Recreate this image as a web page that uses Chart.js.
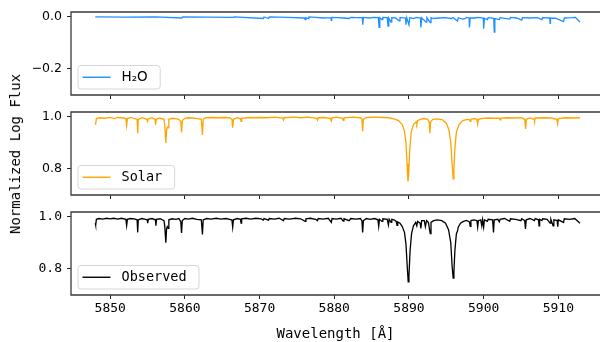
<!DOCTYPE html>
<html><head><meta charset="utf-8">
<script src="https://cdn.jsdelivr.net/npm/chart.js@4.4.0/dist/chart.umd.min.js"></script>
<style>
html,body{margin:0;padding:0;width:600px;height:342px;overflow:hidden;background:#fff;}
#wrap{position:relative;width:600px;height:342px;overflow:hidden;}
.p{position:absolute;left:0;width:600px;}
.p canvas{display:block;width:600px;}
#ylab{position:absolute;left:15px;top:154px;transform:translate(-50%,-50%) rotate(-90deg);font:14px 'DejaVu Sans Mono',monospace;white-space:nowrap;color:#000;}
</style></head><body>
<div id="wrap">
<div class="p" style="top:0;height:100px"><canvas id="c1" width="600" height="100" style="width:600px;height:100px"></canvas></div>
<div class="p" style="top:100px;height:100px"><canvas id="c2" width="600" height="100" style="width:600px;height:100px"></canvas></div>
<div class="p" style="top:200px;height:142px"><canvas id="c3" width="600" height="142" style="width:600px;height:142px"></canvas></div>
<div id="ylab">Normalized Log Flux</div>
</div>
<script>
// ---- data ----
const xTicks = [5850, 5860, 5870, 5880, 5890, 5900, 5910];
const xLimits = [5844.75, 5915.58];
const h2oTicks = [0.0, -0.2];
const fluxTicks = [1.0, 0.8];
const seriesLabels = ['H\u2082O', 'Solar', 'Observed'];

const h2oSpectrum = [
 [5848.0,0],[5852.0,-0.001],[5856.0,0],[5859.6,-0.004],[5859.7,0],[5863.0,-0.001],[5866.5,-0.002],[5866.6,0],
 [5870.5,-0.006],[5870.6,0],[5871.2,-0.006],[5871.3,0],[5873.8,-0.002],[5876.0,-0.004],[5876.1,-0.01],[5876.2,-0.003],
 [5876.5,-0.006],[5876.6,0],[5877.5,-0.002],[5878.6,-0.004],[5879.55,-0.003],[5879.6,-0.013],[5879.65,-0.002],
 [5880.5,-0.003],[5881.2,-0.004],[5882.0,-0.006],[5882.2,-0.002],[5883.0,-0.003],[5883.75,-0.003],[5883.82,-0.03],
 [5883.9,-0.002],[5884.7,-0.004],[5885.3,-0.002],[5885.9,-0.003],[5886.0,-0.04],[5886.1,-0.003],[5886.4,-0.01],
 [5886.5,-0.002],[5887.1,-0.003],[5887.2,-0.035],[5887.3,-0.004],[5887.6,-0.02],[5887.7,-0.003],[5888.2,-0.004],
 [5888.7,-0.015],[5888.8,-0.002],[5889.55,-0.004],[5889.6,-0.03],[5889.7,-0.003],[5890.0,-0.03],[5890.1,-0.003],
 [5890.6,-0.006],[5891.0,-0.002],[5891.55,-0.004],[5891.6,-0.04],[5891.7,-0.004],[5892.3,-0.02],[5892.4,-0.003],
 [5892.85,-0.022],[5892.95,-0.003],[5893.3,-0.006],[5894.0,-0.004],[5894.8,-0.003],[5895.7,-0.006],[5895.9,-0.002],
 [5896.5,-0.016],[5896.6,-0.003],[5897.2,-0.008],[5897.6,-0.006],[5897.7,-0.002],[5898.05,-0.004],[5898.1,-0.04],
 [5898.2,-0.004],[5898.8,-0.004],[5899.3,-0.002],[5899.95,-0.004],[5900.0,-0.045],[5900.1,-0.005],[5900.5,-0.01],
 [5900.6,-0.003],[5901.35,-0.005],[5901.42,-0.058],[5901.5,-0.006],[5902.1,-0.01],[5902.2,-0.003],[5903.5,-0.008],
 [5903.6,-0.002],[5904.4,-0.004],[5905.1,-0.012],[5905.2,-0.003],[5906.2,-0.004],[5907.2,-0.003],[5907.8,-0.01],
 [5907.9,-0.003],[5908.85,-0.004],[5908.9,-0.025],[5908.95,-0.004],[5909.6,-0.005],[5910.7,-0.018],[5910.8,-0.004],
 [5911.8,-0.003],[5912.3,-0.002],[5912.9,-0.02]
];

const solarSpectrum = [
 [5848.00,0.978],[5848.05,0.970],[5848.15,0.993],[5848.6,0.996],[5849.3,0.994],[5850.0,0.997],[5850.6,0.993],
 [5851.0,0.997],[5851.6,0.996],[5852.10,0.993],[5852.20,0.966],[5852.30,0.993],[5852.8,0.997],[5853.0,0.995],
 [5853.60,0.99],[5853.68,0.937],[5853.76,0.99],[5854.3,0.996],[5854.9,0.99],[5855.00,0.982],[5855.10,0.992],
 [5855.6,0.996],[5856.00,0.99],[5856.08,0.969],[5856.16,0.99],[5856.6,0.995],[5857.20,0.99],[5857.30,0.97],
 [5857.45,0.899],[5857.55,0.95],[5857.65,0.96],[5857.75,0.957],[5857.85,0.99],[5858.3,0.994],[5858.8,0.993],
 [5859.2,0.99],[5859.45,0.98],[5859.55,0.940],[5859.65,0.985],[5860.0,0.994],[5860.4,0.996],[5861.0,0.995],
 [5861.7,0.993],[5862.2,0.99],[5862.35,0.930],[5862.45,0.99],[5862.8,0.996],[5863.6,0.997],[5864.5,0.996],
 [5865.2,0.997],[5866.0,0.996],[5866.30,0.99],[5866.40,0.958],[5866.50,0.99],[5867.0,0.996],[5867.45,0.992],
 [5867.52,0.982],[5867.6,0.994],[5868.5,0.997],[5869.2,0.996],[5870.0,0.997],[5871.0,0.996],[5872.0,0.998],
 [5873.1,0.995],[5873.2,0.988],[5873.3,0.996],[5874.5,0.998],[5875.6,0.996],[5876.5,0.998],[5877.65,0.994],
 [5877.75,0.987],[5877.85,0.996],[5878.6,0.997],[5879.5,0.994],[5879.6,0.984],[5879.7,0.996],[5880.3,0.998],
 [5881.1,0.994],[5881.2,0.986],[5881.3,0.996],[5882.5,0.998],[5883.5,0.996],[5883.7,0.99],[5883.80,0.944],
 [5883.90,0.99],[5884.3,0.997],[5885.5,0.998],[5886.5,0.997],[5887.3,0.996],[5888.0,0.992],[5888.6,0.985],
 [5889.1,0.97],[5889.4,0.945],[5889.6,0.9],[5889.75,0.82],[5889.87,0.752],[5889.97,0.78],[5890.1,0.87],
 [5890.3,0.94],[5890.6,0.97],[5890.95,0.98],[5891.05,0.972],[5891.15,0.985],[5891.5,0.99],[5892.0,0.993],
 [5892.5,0.99],[5892.7,0.98],[5892.80,0.937],[5892.90,0.98],[5893.2,0.99],[5893.8,0.992],[5894.5,0.988],
 [5895.0,0.975],[5895.35,0.95],[5895.6,0.9],[5895.8,0.81],[5895.92,0.762],[5896.02,0.8],[5896.15,0.88],
 [5896.35,0.94],[5896.7,0.97],[5897.2,0.985],[5897.8,0.99],[5898.1,0.988],[5898.2,0.982],[5898.3,0.99],
 [5898.8,0.993],[5899.1,0.99],[5899.2,0.972],[5899.3,0.99],[5899.7,0.993],[5900.5,0.995],[5901.3,0.994],
 [5902.1,0.994],[5902.2,0.988],[5902.3,0.995],[5903.2,0.996],[5904.0,0.995],[5905.0,0.996],[5905.5,0.99],
 [5905.62,0.953],[5905.72,0.99],[5906.2,0.995],[5906.75,0.99],[5906.82,0.984],[5906.9,0.995],[5908.0,0.996],
 [5909.0,0.995],[5909.8,0.99],[5909.90,0.973],[5910.0,0.993],[5911.0,0.996],[5912.0,0.995],[5912.9,0.996]
];

const observedSpectrum = [
 [5848.00,0.975],[5848.05,0.968],[5848.15,0.99],[5848.5,0.993],[5849.0,0.991],[5849.5,0.994],[5850.0,0.992],
 [5850.5,0.994],[5851.0,0.991],[5851.5,0.994],[5852.10,0.99],[5852.20,0.966],[5852.30,0.99],[5852.7,0.993],
 [5853.2,0.992],[5853.60,0.988],[5853.68,0.94],[5853.76,0.988],[5854.2,0.993],[5854.6,0.991],[5854.95,0.988],
 [5855.02,0.975],[5855.1,0.99],[5855.6,0.993],[5856.05,0.988],[5856.12,0.966],[5856.2,0.99],[5856.7,0.992],
 [5857.20,0.985],[5857.30,0.965],[5857.45,0.900],[5857.55,0.955],[5857.65,0.962],[5857.75,0.955],[5857.85,0.988],
 [5858.3,0.992],[5858.8,0.99],[5859.2,0.993],[5859.45,0.98],[5859.55,0.938],[5859.65,0.985],[5860.0,0.993],
 [5860.5,0.991],[5861.0,0.994],[5861.6,0.99],[5862.2,0.988],[5862.35,0.932],[5862.45,0.988],[5862.9,0.993],
 [5863.5,0.991],[5864.2,0.994],[5864.8,0.991],[5865.5,0.993],[5866.0,0.99],[5866.30,0.987],[5866.40,0.96],
 [5866.50,0.988],[5867.0,0.993],[5867.45,0.99],[5867.52,0.975],[5867.6,0.992],[5868.2,0.994],[5868.8,0.991],
 [5869.5,0.994],[5870.2,0.992],[5870.5,0.987],[5870.6,0.993],[5871.2,0.987],[5871.3,0.993],[5872.0,0.991],
 [5872.6,0.994],[5873.2,0.985],[5873.3,0.993],[5874.0,0.991],[5874.8,0.994],[5875.5,0.992],[5876.1,0.982],
 [5876.2,0.992],[5876.8,0.994],[5877.5,0.99],[5877.75,0.985],[5877.85,0.993],[5878.5,0.991],[5879.2,0.994],
 [5879.6,0.978],[5879.7,0.993],[5880.3,0.991],[5880.9,0.994],[5881.2,0.983],[5881.3,0.992],[5882.0,0.985],
 [5882.2,0.993],[5882.9,0.991],[5883.5,0.993],[5883.7,0.985],[5883.80,0.94],[5883.90,0.985],[5884.3,0.993],
 [5884.8,0.99],[5885.4,0.993],[5885.85,0.988],[5885.95,0.963],[5886.05,0.99],[5886.4,0.982],[5886.5,0.992],
 [5887.1,0.99],[5887.25,0.968],[5887.35,0.99],[5887.6,0.978],[5887.7,0.99],[5888.0,0.988],[5888.3,0.982],
 [5888.4,0.967],[5888.5,0.98],[5888.8,0.975],[5889.1,0.962],[5889.4,0.94],[5889.6,0.895],[5889.75,0.82],
 [5889.90,0.75],[5890.0,0.775],[5890.15,0.87],[5890.35,0.935],[5890.6,0.965],[5890.9,0.978],[5891.05,0.965],
 [5891.15,0.982],[5891.5,0.975],[5891.6,0.955],[5891.7,0.985],[5892.05,0.985],[5892.2,0.962],[5892.35,0.985],
 [5892.6,0.978],[5892.85,0.935],[5892.95,0.978],[5893.3,0.985],[5893.8,0.988],[5894.4,0.985],[5894.9,0.975],
 [5895.3,0.95],[5895.6,0.9],[5895.78,0.81],[5895.92,0.765],[5896.02,0.79],[5896.15,0.87],[5896.35,0.935],
 [5896.5,0.945],[5896.6,0.96],[5896.9,0.975],[5897.3,0.982],[5897.7,0.986],[5898.1,0.98],[5898.2,0.963],
 [5898.3,0.985],[5898.7,0.988],[5899.1,0.985],[5899.2,0.96],[5899.3,0.985],[5899.6,0.988],[5899.75,0.965],
 [5899.85,0.988],[5900.0,0.96],[5900.1,0.988],[5900.5,0.982],[5900.6,0.99],[5901.2,0.988],[5901.32,0.94],
 [5901.42,0.988],[5901.9,0.99],[5902.1,0.98],[5902.2,0.99],[5902.8,0.993],[5903.5,0.982],[5903.6,0.992],
 [5904.3,0.99],[5905.0,0.985],[5905.1,0.992],[5905.5,0.985],[5905.6,0.953],[5905.7,0.988],[5906.2,0.993],
 [5906.8,0.985],[5906.9,0.993],[5907.35,0.988],[5907.42,0.965],[5907.5,0.99],[5907.8,0.985],[5907.9,0.992],
 [5908.5,0.99],[5908.9,0.975],[5909.0,0.99],[5909.3,0.965],[5909.4,0.988],[5909.85,0.985],[5909.92,0.962],
 [5910.0,0.988],[5910.7,0.978],[5910.8,0.992],[5911.5,0.99],[5912.2,0.993],[5912.9,0.975]
];

// ---- drawing ----
const SANS = "'DejaVu Sans', sans-serif";
const MONO = "'DejaVu Sans Mono', monospace";

const panelPlugin = {
  id: 'panelDeco',
  afterDatasetsDraw(chart, args, o) {
    const ctx = chart.ctx, a = chart.chartArea;
    ctx.save();
    ctx.font = o.font;
    const tw = ctx.measureText(o.text).width;
    const h = 23.5, x0 = a.left + 6.5, y0 = a.bottom - 6.5 - h;
    const w = 50 + tw + 6;
    ctx.beginPath();
    ctx.roundRect(x0 + 0.5, y0 + 0.5, w, h, 3);
    ctx.fillStyle = 'rgba(255,255,255,0.8)';
    ctx.fill();
    ctx.strokeStyle = '#d6d6d6';
    ctx.lineWidth = 1;
    ctx.stroke();
    ctx.beginPath();
    ctx.moveTo(x0 + 5, y0 + h / 2 + 0.5);
    ctx.lineTo(x0 + 33, y0 + h / 2 + 0.5);
    ctx.strokeStyle = o.color;
    ctx.lineWidth = 1.4;
    ctx.stroke();
    ctx.fillStyle = '#000';
    ctx.textBaseline = 'middle';
    ctx.textAlign = 'left';
    ctx.fillText(o.text, x0 + 44, y0 + h / 2 + 1);
    ctx.restore();
  },
  afterDraw(chart) {
    // matplotlib-style spines; the right spine lies beyond the visible page
    const ctx = chart.ctx, a = chart.chartArea;
    ctx.save();
    ctx.strokeStyle = '#3a3a3a';
    ctx.lineWidth = 1.3;
    ctx.beginPath();
    ctx.moveTo(a.right + 2, a.top); ctx.lineTo(a.left, a.top); ctx.lineTo(a.left, a.bottom); ctx.lineTo(a.right + 2, a.bottom);
    ctx.stroke();
    ctx.restore();
  }
};

function makePanel(id, spectrum, color, label, yMin, yMax, yTicks, yFont, ySize, legendFont, bottom) {
  const fmt = v => v.toFixed(1).replace('-', '\u2212');
  new Chart(document.getElementById(id), {
    type: 'line',
    data: {
      datasets: [{
        data: spectrum.map(p => ({ x: p[0], y: p[1] })),
        borderColor: color, borderWidth: 1.3, pointRadius: 0, tension: 0, fill: false
      }]
    },
    options: {
      responsive: false, animation: false, events: [],
      layout: { padding: { top: 12, left: 0, right: 0, bottom: 0 } },
      plugins: {
        legend: { display: false }, tooltip: { enabled: false },
        panelDeco: { text: label, color: color, font: legendFont }
      },
      scales: {
        x: {
          type: 'linear', min: xLimits[0], max: xLimits[1],
          afterBuildTicks: s => { s.ticks = xTicks.map(v => ({ value: v })); },
          afterFit: s => { s.height = bottom ? 47 : 5; s.paddingLeft = 0; s.paddingRight = 0; },
          grid: { drawOnChartArea: false, drawTicks: true, tickLength: 4, color: '#222', lineWidth: 1 },
          border: { display: false },
          ticks: { display: bottom, color: '#000', padding: 2, font: { family: MONO, size: 13 },
                   maxRotation: 0, callback: v => String(v) },
          title: { display: bottom, text: 'Wavelength [\u00c5]', color: '#000',
                   font: { family: MONO, size: 14 }, padding: { top: 0, bottom: -1 } }
        },
        y: {
          type: 'linear', min: yMin, max: yMax,
          afterBuildTicks: s => { s.ticks = yTicks.map(v => ({ value: v })); },
          afterFit: s => { s.width = 71; s.paddingTop = 0; s.paddingBottom = 0; },
          grid: { drawOnChartArea: false, drawTicks: true, tickLength: 4, color: '#222', lineWidth: 1 },
          border: { display: false },
          ticks: { color: '#000', padding: 5, font: { family: yFont, size: ySize }, callback: v => fmt(v) }
        }
      }
    },
    plugins: [panelPlugin]
  });
}

makePanel('c1', h2oSpectrum, '#1e90ff', seriesLabels[0], -0.3, 0.019, h2oTicks, SANS, 12.5, "13.5px " + SANS, false);
makePanel('c2', solarSpectrum, '#ffa500', seriesLabels[1], 0.70, 1.018, fluxTicks, SANS, 12.5, "13.5px " + MONO, false);
makePanel('c3', observedSpectrum, '#000000', seriesLabels[2], 0.70, 1.018, fluxTicks, MONO, 13, "13.5px " + MONO, true);
</script>
</body></html>
